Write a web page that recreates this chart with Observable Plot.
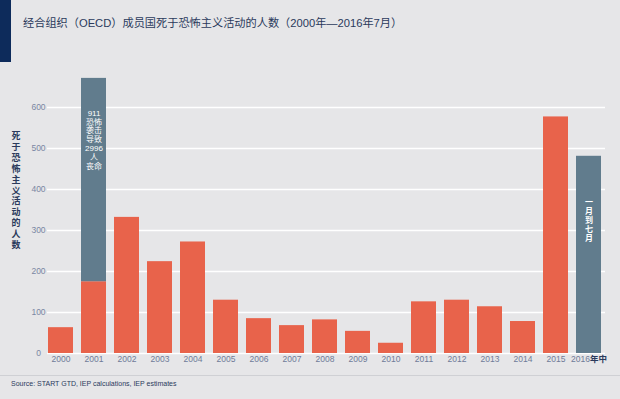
<!DOCTYPE html>
<html><head><meta charset="utf-8">
<script src="https://cdn.jsdelivr.net/npm/d3@7"></script>
<script src="https://cdn.jsdelivr.net/npm/@observablehq/plot@0.6"></script>
<style>
body{margin:0;background:#e6e6e8;width:620px;height:399px;overflow:hidden;position:relative;font-family:"Liberation Sans","Noto Sans CJK SC",sans-serif;}
#accent{position:absolute;left:0;top:0;width:11px;height:62px;background:#0d2b5b;}
#title{position:absolute;left:23px;top:16px;font-size:11.2px;line-height:14px;color:#2b3a5c;white-space:nowrap;}
#ylab{position:absolute;left:10px;top:131px;width:12px;font-size:9px;line-height:10.9px;font-weight:bold;color:#2b3a5c;text-align:center;}
#chart{position:absolute;left:0;top:60px;}
#sep{position:absolute;left:0;top:375px;width:620px;height:1px;background:#cfd0d4;}
#source{position:absolute;left:11px;top:379px;font-size:7px;line-height:10px;color:#2b3a5c;white-space:nowrap;}
</style></head>
<body>
<div id="accent"></div>
<div id="title"></div>
<div id="ylab"></div>
<div id="chart"></div>
<div id="sep"></div>
<div id="source"></div>
<script>
const titleText = "经合组织（OECD）成员国死于恐怖主义活动的人数（2000年—2016年7月）";
const yTitle = "死于恐怖主义活动的人数";
const sourceText = "Source: START GTD, IEP calculations, IEP estimates";
const years = ["2000","2001","2002","2003","2004","2005","2006","2007","2008","2009","2010","2011","2012","2013","2014","2015","2016"];
const deaths = [63,175,332,224,272,130,85,68,82,54,25,126,130,114,78,577,481];
const sept11Extra = 496; // grey segment stacked on 2001 (bar truncated)
const yTicks = [0,100,200,300,400,500,600];
const sept11Label = "911\n恐怖\n袭击\n导致\n2996\n人\n丧命";
const partialLabel = "一\n月\n到\n七\n月";
const lastYearLabel = "2016年中";

document.getElementById("title").textContent = titleText;
document.getElementById("ylab").innerHTML = yTitle.split("").join("<br>");
document.getElementById("source").textContent = sourceText;

const rows = years.map((y, i) => ({year: y, value: deaths[i], kind: y === "2016" ? "partial" : "full"}));
rows.push({year: "2001", value: sept11Extra, kind: "sept11"});

const orange = "#e8634b", slate = "#617c8d";

const plot = Plot.plot({
  width: 620, height: 310,
  marginLeft: 47, marginRight: 15, marginTop: 6, marginBottom: 17,
  style: {background: "transparent", color: "#6f7b98", fontSize: "8.5px", fontFamily: "'Liberation Sans','Noto Sans CJK SC',sans-serif"},
  x: {domain: years, range: [46.7, 601.3], paddingInner: 0.255, paddingOuter: 0, label: null},
  y: {domain: [0, 700], label: null, axis: null},
  color: {domain: ["full","sept11","partial"], range: [orange, slate, slate]},
  marks: [
    Plot.ruleY(yTicks, {stroke: "white", strokeWidth: 1.3}),
    Plot.barY(rows, {x: "year", y: "value", fill: "kind"}),
    Plot.text(yTicks, {y: d => d, text: d => String(d), frameAnchor: "left", dx: -9, textAnchor: "middle", fill: "#7a86a3", fontSize: 8.5}),
    Plot.axisX({tickSize: 0, tickPadding: 2, fontSize: 8.5, tickFormat: d => d === "2016" ? lastYearLabel : d}),
    Plot.text([sept11Label], {x: () => "2001", y: () => deaths[1] + sept11Extra, dy: 31, text: d => d, lineAnchor: "top", fill: "white", fontSize: 8, lineHeight: 1.11}),
    Plot.text([partialLabel], {x: () => "2016", y: () => deaths[16], dy: 42, text: d => d, lineAnchor: "top", fill: "white", fontSize: 8, fontWeight: "bold", lineHeight: 1.14})
  ]
});
document.getElementById("chart").appendChild(plot);

const ns = "http://www.w3.org/2000/svg";
plot.querySelectorAll("text").forEach(t => {
  if (t.textContent === lastYearLabel) {
    t.textContent = "2016";
    const ts = document.createElementNS(ns, "tspan");
    ts.textContent = "年中";
    ts.setAttribute("font-weight", "bold");
    ts.setAttribute("fill", "#2b3a5c");
    t.appendChild(ts);
  }
});
</script>
</body></html>
